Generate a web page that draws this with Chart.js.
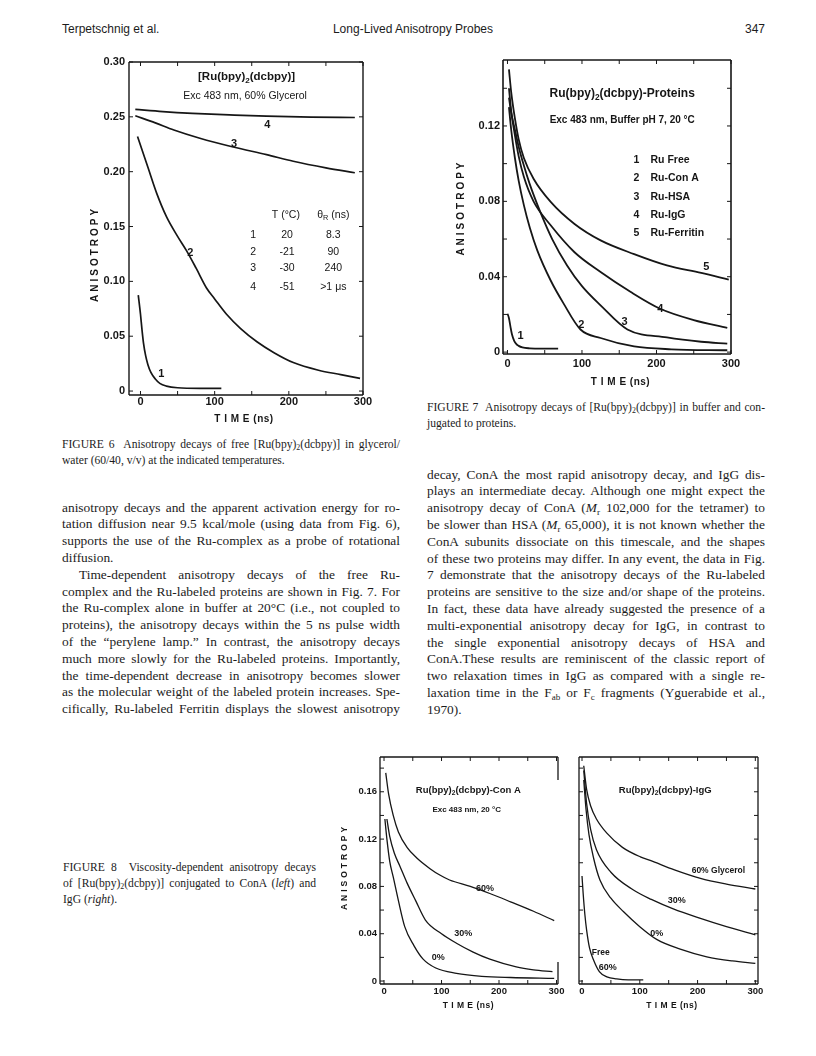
<!DOCTYPE html>
<html lang="en">
<head>
<meta charset="UTF-8">
<title>Long-Lived Anisotropy Probes - page 347</title>
<script src="https://cdn.jsdelivr.net/npm/chart.js"></script>
<style>
  body { margin: 0; background: #fff; }
  .page { position: relative; width: 816px; height: 1056px; overflow: hidden; font-family: "Liberation Serif", "Times New Roman", serif; color: #1c1c1c; }
  .hdr { position: absolute; top: 21px; font-family: "Liberation Sans", Arial, sans-serif; font-size: 12px; line-height: 16px; white-space: nowrap; }
  .col { position: absolute; width: 338px; font-size: 13.4px; }
  .col div { height: 16.8px; line-height: 16.8px; white-space: nowrap; }
  .cap { position: absolute; width: 338px; font-size: 11.6px; }
  .cap div { white-space: nowrap; }
  sub { font-size: 0.68em; vertical-align: -0.3em; line-height: 0; }
  canvas.fig { position: absolute; }
</style>
</head>
<body>
<div class="page">
  <div class="hdr" style="left:62px">Terpetschnig et al.</div>
  <div class="hdr" style="left:413px; transform:translateX(-50%)">Long-Lived Anisotropy Probes</div>
  <div class="hdr" style="right:51px">347</div>

  <canvas id="fig6" class="fig" width="315" height="380" style="left:60px; top:50px"></canvas>
  <canvas id="fig7" class="fig" width="305" height="347" style="left:440px; top:48px"></canvas>
  <canvas id="fig8a" class="fig" width="250" height="270" style="left:320px; top:745px"></canvas>
  <canvas id="fig8b" class="fig" width="198" height="270" style="left:572px; top:745px"></canvas>

  <!-- captions -->
  <div class="cap" style="left:62px; top:437px; line-height:15.7px">
    <div class="j"><span>FIGURE 6&nbsp; Anisotropy decays of free [Ru(bpy)<sub>2</sub>(dcbpy)] in glycerol/</span></div>
    <div><span>water (60/40, v/v) at the indicated temperatures.</span></div>
  </div>
  <div class="cap" style="left:427px; top:400px; line-height:16px">
    <div class="j"><span>FIGURE 7&nbsp; Anisotropy decays of [Ru(bpy)<sub>2</sub>(dcbpy)] in buffer and con-</span></div>
    <div><span>jugated to proteins.</span></div>
  </div>
  <div class="cap" style="left:63px; top:860px; line-height:15.8px; width:253px">
    <div class="j"><span>FIGURE 8&nbsp; Viscosity-dependent anisotropy decays</span></div>
    <div class="j"><span>of [Ru(bpy)<sub>2</sub>(dcbpy)] conjugated to ConA (<i>left</i>) and</span></div>
    <div><span>IgG (<i>right</i>).</span></div>
  </div>

  <!-- body text, left column -->
  <div class="col" style="left:62px; top:499.6px">
    <div class="j"><span>anisotropy decays and the apparent activation energy for ro-</span></div>
    <div class="j"><span>tation diffusion near 9.5 kcal/mole (using data from Fig. 6),</span></div>
    <div class="j"><span>supports the use of the Ru-complex as a probe of rotational</span></div>
    <div><span>diffusion.</span></div>
    <div class="j" style="padding-left:17px"><span>Time-dependent anisotropy decays of the free Ru-</span></div>
    <div class="j"><span>complex and the Ru-labeled proteins are shown in Fig. 7. For</span></div>
    <div class="j"><span>the Ru-complex alone in buffer at 20°C (i.e., not coupled to</span></div>
    <div class="j"><span>proteins), the anisotropy decays within the 5 ns pulse width</span></div>
    <div class="j"><span>of the “perylene lamp.” In contrast, the anisotropy decays</span></div>
    <div class="j"><span>much more slowly for the Ru-labeled proteins. Importantly,</span></div>
    <div class="j"><span>the time-dependent decrease in anisotropy becomes slower</span></div>
    <div class="j"><span>as the molecular weight of the labeled protein increases. Spe-</span></div>
    <div class="j"><span>cifically, Ru-labeled Ferritin displays the slowest anisotropy</span></div>
  </div>

  <!-- body text, right column -->
  <div class="col" style="left:427px; top:466.6px">
    <div class="j"><span>decay, ConA the most rapid anisotropy decay, and IgG dis-</span></div>
    <div class="j"><span>plays an intermediate decay. Although one might expect the</span></div>
    <div class="j"><span>anisotropy decay of ConA (<i>M</i><sub>r</sub> 102,000 for the tetramer) to</span></div>
    <div class="j"><span>be slower than HSA (<i>M</i><sub>r</sub> 65,000), it is not known whether the</span></div>
    <div class="j"><span>ConA subunits dissociate on this timescale, and the shapes</span></div>
    <div class="j"><span>of these two proteins may differ. In any event, the data in Fig.</span></div>
    <div class="j"><span>7 demonstrate that the anisotropy decays of the Ru-labeled</span></div>
    <div class="j"><span>proteins are sensitive to the size and/or shape of the proteins.</span></div>
    <div class="j"><span>In fact, these data have already suggested the presence of a</span></div>
    <div class="j"><span>multi-exponential anisotropy decay for IgG, in contrast to</span></div>
    <div class="j"><span>the single exponential anisotropy decays of HSA and</span></div>
    <div class="j"><span>ConA.These results are reminiscent of the classic report of</span></div>
    <div class="j"><span>two relaxation times in IgG as compared with a single re-</span></div>
    <div class="j"><span>laxation time in the F<sub>ab</sub> or F<sub>c</sub> fragments (Yguerabide et al.,</span></div>
    <div><span>1970).</span></div>
  </div>
</div>

<script>
    // ---- Figure 6: free Ru complex in 60% glycerol ----
    const fig6T1 = [-3, 0, 2, 4, 7, 10, 14, 20, 26, 35, 50, 80, 109];
    const fig6R1 = [0.0875, 0.070, 0.056, 0.044, 0.032, 0.024, 0.017, 0.011, 0.007, 0.0045, 0.003, 0.0025, 0.0025];
    const fig6T2 = [-4, 10, 22, 35, 50, 62, 75, 89, 100, 116, 135, 157, 180, 206, 240, 270, 296];
    const fig6R2 = [0.232, 0.204, 0.180, 0.159, 0.141, 0.128, 0.112, 0.094, 0.084, 0.070, 0.057, 0.045, 0.035, 0.026, 0.019, 0.015, 0.0116];
    const fig6T3 = [-7, 20, 45, 80, 125, 170, 206, 250, 289];
    const fig6R3 = [0.251, 0.2445, 0.238, 0.2305, 0.2225, 0.2155, 0.2095, 0.2035, 0.199];
    const fig6T4 = [-7, 30, 70, 120, 170, 230, 289];
    const fig6R4 = [0.2568, 0.2548, 0.2532, 0.2518, 0.2506, 0.2498, 0.2494];
    const fig6XLabels = [0, 100, 200, 300];
    const fig6XMarks = [0, 50, 100, 150, 200, 250, 300];
    const fig6YLabels = [0, 0.05, 0.10, 0.15, 0.20, 0.25, 0.30];

    // ---- Figure 7: Ru-labelled proteins in buffer ----
    const fig7T1 = [0, 2, 4, 6, 9, 12, 15, 20, 30, 45, 68];
    const fig7R1 = [0.0204, 0.018, 0.0135, 0.0095, 0.006, 0.0042, 0.0033, 0.0025, 0.002, 0.0018, 0.0018];
    const fig7T2 = [2, 5, 10, 15, 22, 30, 40, 58, 75, 98, 125, 170, 220, 295];
    const fig7R2 = [0.130, 0.118, 0.103, 0.091, 0.078, 0.066, 0.054, 0.038, 0.026, 0.012, 0.0075, 0.003, 0.0015, 0.001];
    const fig7T3 = [2, 5, 10, 15, 22, 30, 44, 60, 80, 100, 125, 161, 214, 260, 295];
    const fig7R3 = [0.135, 0.127, 0.118, 0.109, 0.099, 0.089, 0.0744, 0.060, 0.046, 0.035, 0.0248, 0.012, 0.0078, 0.0055, 0.0045];
    const fig7T4 = [2, 5, 10, 15, 22, 35, 58, 90, 125, 165, 205, 250, 295];
    const fig7R4 = [0.140, 0.128, 0.115, 0.104, 0.093, 0.080, 0.0673, 0.053, 0.0425, 0.032, 0.023, 0.017, 0.0129];
    const fig7T5 = [2, 5, 10, 15, 22, 35, 58, 90, 125, 170, 214, 260, 297];
    const fig7R5 = [0.150, 0.138, 0.124, 0.113, 0.103, 0.092, 0.0797, 0.068, 0.0593, 0.052, 0.046, 0.042, 0.0384];
    const fig7Legend = ['Ru Free', 'Ru-Con A', 'Ru-HSA', 'Ru-IgG', 'Ru-Ferritin'];
    const fig7XLabels = [0, 100, 200, 300];
    const fig7XMarks = [0, 50, 100, 150, 200, 250, 300];
    const fig7YLabels = [0, 0.04, 0.08, 0.12];
    const fig7YMarks = [0, 0.02, 0.04, 0.06, 0.08, 0.10, 0.12, 0.14];

    // ---- Figure 8 left: Con A at 0, 30, 60% glycerol ----
    const fig8aT60 = [3, 8, 16, 25, 40, 57, 80, 97, 114, 150, 184, 220, 260, 296];
    const fig8aR60 = [0.176, 0.158, 0.140, 0.126, 0.113, 0.104, 0.095, 0.0896, 0.0854, 0.080, 0.074, 0.067, 0.059, 0.051];
    const fig8aT30 = [5, 10, 18, 28, 40, 55, 72, 100, 126, 155, 184, 230, 260, 293];
    const fig8aR30 = [0.137, 0.122, 0.108, 0.0967, 0.083, 0.068, 0.0516, 0.040, 0.032, 0.0245, 0.0185, 0.012, 0.0095, 0.0079];
    const fig8aT0 = [1.5, 5, 10, 16, 25, 36, 52, 68, 90, 126, 170, 220, 296];
    const fig8aR0 = [0.137, 0.120, 0.101, 0.088, 0.068, 0.046, 0.030, 0.0185, 0.011, 0.0065, 0.004, 0.003, 0.0023];
    // ---- Figure 8 right: IgG ----
    const fig8bT60 = [3, 8, 15, 25, 43, 70, 101, 118, 160, 205, 250, 300];
    const fig8bR60 = [0.182, 0.162, 0.148, 0.137, 0.125, 0.113, 0.105, 0.102, 0.094, 0.0868, 0.082, 0.0778];
    const fig8bT30 = [3, 8, 15, 25, 50, 89, 120, 158, 205, 250, 300];
    const fig8bR30 = [0.178, 0.150, 0.128, 0.111, 0.092, 0.077, 0.069, 0.061, 0.053, 0.046, 0.039];
    const fig8bT0 = [3, 7, 12, 20, 31, 50, 72, 100, 130, 170, 216, 260, 300];
    const fig8bR0 = [0.170, 0.145, 0.124, 0.104, 0.0854, 0.070, 0.0586, 0.046, 0.035, 0.027, 0.0205, 0.017, 0.015];
    const fig8bTFree = [0, 2, 5, 8, 13, 20, 30, 43, 60, 80, 106];
    const fig8bRFree = [0.0888, 0.074, 0.056, 0.043, 0.028, 0.0178, 0.008, 0.0036, 0.0018, 0.001, 0.001];
    const fig8XLabels = [0, 100, 200, 300];
    const fig8XMarks = [0, 50, 100, 150, 200, 250, 300];
    const fig8YLabels = [0, 0.04, 0.08, 0.12, 0.16];
    const fig8YMarks = [0, 0.02, 0.04, 0.06, 0.08, 0.10, 0.12, 0.14, 0.16, 0.18];

    const INK = '#161616';
    const SANS = '"Liberation Sans", Arial, sans-serif';

    function pts(t, r) { return t.map((x, i) => ({ x: x, y: r[i] })); }
    function curve(t, r, w) {
        return { data: pts(t, r), showLine: true, borderColor: INK, borderWidth: w, pointRadius: 0,
                 cubicInterpolationMode: 'monotone', fill: false };
    }

    // text with "_x" meaning subscript x
    function drawRich(ctx, text, x, y, size, bold, align) {
        const parts = text.split(/_(\S)/);
        const w = bold ? 'bold ' : '';
        let total = 0;
        parts.forEach((p, i) => {
            ctx.font = w + (i % 2 ? size * 0.7 : size) + 'px ' + SANS;
            total += ctx.measureText(p).width;
        });
        let cx = align === 'left' ? x : align === 'right' ? x - total : x - total / 2;
        ctx.textAlign = 'left';
        ctx.textBaseline = 'middle';
        parts.forEach((p, i) => {
            const sub = i % 2 === 1;
            ctx.font = w + (sub ? size * 0.7 : size) + 'px ' + SANS;
            ctx.fillText(p, cx, sub ? y + size * 0.3 : y);
            cx += ctx.measureText(p).width;
        });
    }

    // frame, inward tick marks, in-plot notes and axis titles
    const framePlugin = {
        id: 'frame',
        afterDatasetsDraw(chart, args, o) {
            const { ctx, chartArea: a, scales: { x, y } } = chart;
            ctx.save();
            ctx.strokeStyle = INK;
            ctx.fillStyle = INK;
            ctx.lineWidth = o.lw;
            const seg = (x1, y1, x2, y2) => { ctx.beginPath(); ctx.moveTo(x1, y1); ctx.lineTo(x2, y2); ctx.stroke(); };
            seg(a.left, a.top, a.right, a.top);
            seg(a.left, a.bottom, a.right, a.bottom);
            seg(a.left, a.top, a.left, a.bottom);
            if (o.rightParts) {
                o.rightParts.forEach(p => seg(a.right, y.getPixelForValue(p[0]), a.right, y.getPixelForValue(p[1])));
            } else {
                seg(a.right, a.top, a.right, a.bottom);
            }
            ctx.lineWidth = 1;
            const L = 4;
            o.xMarks.forEach(v => {
                const px = x.getPixelForValue(v);
                seg(px, a.bottom, px, a.bottom - L);
                seg(px, a.top, px, a.top + L);
            });
            o.yMarks.forEach(v => {
                const py = y.getPixelForValue(v);
                seg(a.left, py, a.left + L, py);
                if (!o.rightParts) seg(a.right, py, a.right - L, py);
            });
            (o.notes || []).forEach(n => {
                drawRich(ctx, n.text, x.getPixelForValue(n.t), y.getPixelForValue(n.v), n.size, n.bold, n.align || 'center');
            });
            // axis titles
            const canSpace = 'letterSpacing' in ctx;
            ctx.font = 'bold ' + o.titleSize + 'px ' + SANS;
            ctx.textAlign = 'center';
            ctx.textBaseline = 'middle';
            if (canSpace) ctx.letterSpacing = '0.5px';
            ctx.fillText('T I M E (ns)', x.getPixelForValue(o.xTitle.t), a.bottom + o.xTitle.dy);
            if (o.yTitle) {
                if (canSpace) ctx.letterSpacing = o.titleSpacing + 'px';
                ctx.translate(a.left + o.yTitle.dx, y.getPixelForValue(o.yTitle.v));
                ctx.rotate(-Math.PI / 2);
                ctx.fillText('ANISOTROPY', 0, 0);
            }
            ctx.restore();
        }
    };

    function makeChart(id, datasets, g, frame) {
        const yFmt = v => (v === 0 ? '0' : v.toFixed(2));
        new Chart(document.getElementById(id), {
            type: 'scatter',
            data: { datasets: datasets },
            options: {
                responsive: false,
                animation: false,
                events: [],
                layout: { padding: { top: g.padTop, right: g.padRight, left: 0, bottom: 0 } },
                scales: {
                    x: {
                        type: 'linear', min: g.xMin, max: g.xMax,
                        afterBuildTicks: s => { s.ticks = g.xLabels.map(v => ({ value: v })); },
                        afterFit: s => { s.height = g.xAxisH; },
                        grid: { display: false, drawTicks: false },
                        border: { display: false },
                        ticks: { padding: g.xPad, color: INK, maxRotation: 0, autoSkip: false,
                                 font: { family: SANS, size: g.tickSize, weight: 'bold' },
                                 callback: v => String(v) }
                    },
                    y: {
                        type: 'linear', min: g.yMin, max: g.yMax,
                        afterBuildTicks: s => { s.ticks = g.yLabels.map(v => ({ value: v })); },
                        afterFit: s => { s.width = g.yAxisW; },
                        grid: { display: false, drawTicks: false },
                        border: { display: false },
                        ticks: { display: g.showY, padding: g.yPad, color: INK, autoSkip: false,
                                 font: { family: SANS, size: g.tickSize, weight: 'bold' },
                                 callback: yFmt }
                    }
                },
                plugins: { legend: { display: false }, tooltip: { enabled: false }, frame: frame }
            },
            plugins: [framePlugin]
        });
    }

    // Figure 6
    const fig6Rows = [['1', '20', '8.3'], ['2', '-21', '90'], ['3', '-30', '240'], ['4', '-51', '>1 μs']];
    const fig6RowV = [0.1422, 0.1270, 0.1122, 0.0950];
    const fig6Notes = [
        { t: 143, v: 0.2863, text: '[Ru(bpy)_2(dcbpy)]', size: 11.5, bold: true },
        { t: 141, v: 0.2690, text: 'Exc 483 nm, 60% Glycerol', size: 10.5 },
        { t: 196, v: 0.1605, text: 'T (°C)', size: 10.5 },
        { t: 260, v: 0.1605, text: 'θ_R (ns)', size: 10.5 },
        { t: 171, v: 0.2425, text: '4', size: 11, bold: true },
        { t: 126, v: 0.2252, text: '3', size: 11, bold: true },
        { t: 67, v: 0.1258, text: '2', size: 11, bold: true },
        { t: 28, v: 0.0155, text: '1', size: 11, bold: true }
    ];
    fig6Rows.forEach((r, i) => {
        fig6Notes.push({ t: 152, v: fig6RowV[i], text: r[0], size: 10.5 });
        fig6Notes.push({ t: 197.5, v: fig6RowV[i], text: r[1], size: 10.5 });
        fig6Notes.push({ t: 260, v: fig6RowV[i], text: r[2], size: 10.5 });
    });
    makeChart('fig6', [
        curve(fig6T1, fig6R1, 1.7), curve(fig6T2, fig6R2, 1.7),
        curve(fig6T3, fig6R3, 1.7), curve(fig6T4, fig6R4, 1.7)
    ], { xMin: -15.5, xMax: 300, yMin: -0.0036, yMax: 0.30, xLabels: fig6XLabels, yLabels: fig6YLabels,
         padTop: 12, padRight: 12, yAxisW: 69, xAxisH: 35, xPad: 0, yPad: 4, tickSize: 11, showY: true },
       { lw: 1.4, xMarks: fig6XMarks, yMarks: fig6YLabels, notes: fig6Notes, titleSize: 10, titleSpacing: 3,
         xTitle: { t: 139.5, dy: 24 }, yTitle: { dx: -34, v: 0.125 } });

    // Figure 7
    const fig7LegendV = [0.1019, 0.0922, 0.0824, 0.0727, 0.0630];
    const fig7Notes = [
        { t: 154, v: 0.1370, text: 'Ru(bpy)_2(dcbpy)-Proteins', size: 12, bold: true },
        { t: 154, v: 0.1232, text: 'Exc 483 nm, Buffer pH 7, 20 °C', size: 10, bold: true },
        { t: 17.4, v: 0.0085, text: '1', size: 11, bold: true },
        { t: 99, v: 0.0143, text: '2', size: 11, bold: true },
        { t: 157, v: 0.0161, text: '3', size: 11, bold: true },
        { t: 205, v: 0.0227, text: '4', size: 11, bold: true },
        { t: 267, v: 0.0453, text: '5', size: 11, bold: true }
    ];
    fig7Legend.forEach((name, i) => {
        fig7Notes.push({ t: 173, v: fig7LegendV[i], text: String(i + 1), size: 10.5, bold: true });
        fig7Notes.push({ t: 192, v: fig7LegendV[i], text: name, size: 10.5, bold: true, align: 'left' });
    });
    makeChart('fig7', [
        curve(fig7T1, fig7R1, 1.8), curve(fig7T2, fig7R2, 1.8), curve(fig7T3, fig7R3, 1.8),
        curve(fig7T4, fig7R4, 1.8), curve(fig7T5, fig7R5, 1.8)
    ], { xMin: -6, xMax: 300, yMin: -0.001, yMax: 0.155, xLabels: fig7XLabels, yLabels: fig7YLabels,
         padTop: 12, padRight: 14, yAxisW: 63, xAxisH: 41, xPad: 3, yPad: 3, tickSize: 11, showY: true },
       { lw: 1.6, xMarks: fig7XMarks, yMarks: fig7YMarks, notes: fig7Notes, titleSize: 10, titleSpacing: 3,
         xTitle: { t: 151.7, dy: 28 }, yTitle: { dx: -42, v: 0.0767 } });

    // Figure 8 left (Con A)
    makeChart('fig8a', [
        curve(fig8aT60, fig8aR60, 1.3), curve(fig8aT30, fig8aR30, 1.3), curve(fig8aT0, fig8aR0, 1.3)
    ], { xMin: -7, xMax: 302.6, yMin: -0.0025, yMax: 0.1894, xLabels: fig8XLabels, yLabels: fig8YLabels,
         padTop: 12, padRight: 12, yAxisW: 60, xAxisH: 31, xPad: 2, yPad: 3, tickSize: 9.5, showY: true },
       { lw: 1.3, xMarks: fig8XMarks, yMarks: fig8YMarks, rightParts: [[0.17, 0.1894], [-0.0025, 0.016]],
         titleSize: 8.5, titleSpacing: 3, xTitle: { t: 146.6, dy: 22 }, yTitle: { dx: -35, v: 0.0964 },
         notes: [
            { t: 146.6, v: 0.1615, text: 'Ru(bpy)_2(dcbpy)-Con A', size: 9.5, bold: true },
            { t: 143.8, v: 0.1446, text: 'Exc 483 nm, 20 °C', size: 8, bold: true },
            { t: 175.6, v: 0.0784, text: '60%', size: 9, bold: true },
            { t: 138, v: 0.0403, text: '30%', size: 9, bold: true },
            { t: 94.4, v: 0.0197, text: '0%', size: 9, bold: true }
         ] });

    // Figure 8 right (IgG)
    makeChart('fig8b', [
        curve(fig8bT60, fig8bR60, 1.3), curve(fig8bT30, fig8bR30, 1.3),
        curve(fig8bT0, fig8bR0, 1.3), curve(fig8bTFree, fig8bRFree, 1.3)
    ], { xMin: -5.2, xMax: 304.6, yMin: -0.0025, yMax: 0.1894, xLabels: fig8XLabels, yLabels: fig8YLabels,
         padTop: 12, padRight: 12, yAxisW: 7, xAxisH: 31, xPad: 2, yPad: 3, tickSize: 9.5, showY: false },
       { lw: 1.3, xMarks: fig8XMarks, yMarks: fig8YMarks, titleSize: 8.5, titleSpacing: 3,
         xTitle: { t: 155.5, dy: 22 },
         notes: [
            { t: 144, v: 0.1615, text: 'Ru(bpy)_2(dcbpy)-IgG', size: 9.5, bold: true },
            { t: 236, v: 0.0933, text: '60% Glycerol', size: 8.5, bold: true },
            { t: 164, v: 0.0679, text: '30%', size: 9, bold: true },
            { t: 129.5, v: 0.0403, text: '0%', size: 9, bold: true },
            { t: 32.4, v: 0.0239, text: 'Free', size: 8.5, bold: true },
            { t: 44.6, v: 0.0116, text: '60%', size: 9, bold: true }
         ] });

    // stretch each text line to the column width, like the printed page
    function justify() {
        document.querySelectorAll('.j').forEach(el => {
            const span = el.querySelector('span');
            const pad = parseFloat(getComputedStyle(el).paddingLeft) || 0;
            const target = el.parentElement.getBoundingClientRect().width - pad;
            const natural = span.getBoundingClientRect().width;
            const gaps = (span.textContent.match(/[ \u00a0]/g) || []).length;
            if (gaps) span.style.wordSpacing = ((target - natural) / gaps) + 'px';
        });
    }
    if (document.fonts && document.fonts.ready) document.fonts.ready.then(justify); else justify();
</script>
</body>
</html>
